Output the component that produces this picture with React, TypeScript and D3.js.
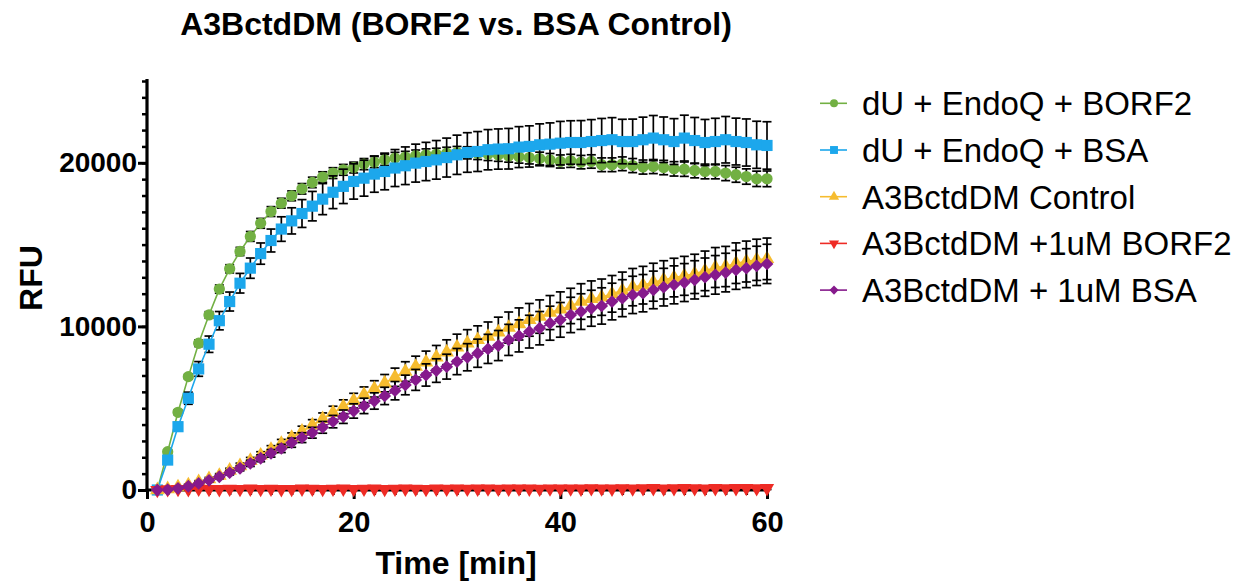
import React, { useEffect, useRef } from 'react';
import * as d3 from 'd3';

const title = 'A3BctdDM (BORF2 vs. BSA Control)';
const xTitle = 'Time [min]';
const yTitle = 'RFU';

const times = [
  1, 2, 3, 4, 5, 6, 7, 8, 9, 10, 11, 12, 13, 14, 15, 16, 17, 18, 19, 20,
  21, 22, 23, 24, 25, 26, 27, 28, 29, 30, 31, 32, 33, 34, 35, 36, 37, 38, 39, 40,
  41, 42, 43, 44, 45, 46, 47, 48, 49, 50, 51, 52, 53, 54, 55, 56, 57, 58, 59, 60,
];

const seriesNames = [
  'dU + EndoQ + BORF2',
  'dU + EndoQ + BSA',
  'A3BctdDM Control',
  'A3BctdDM +1uM BORF2',
  'A3BctdDM + 1uM BSA',
];

// mean RFU per minute
const endoqBorf2 = [
  0, 2340, 4750, 6930, 8970, 10700, 12280, 13520, 14580, 15500,
  16300, 17020, 17530, 17980, 18410, 18800, 19130, 19370, 19570, 19710,
  19920, 20040, 20180, 20290, 20350, 20430, 20490, 20530, 20590, 20630,
  20610, 20570, 20520, 20470, 20420, 20370, 20320, 20260, 20170, 20080,
  20120, 20040, 20080, 19880, 19880, 19940, 19830, 19740, 19770, 19710,
  19630, 19610, 19530, 19470, 19470, 19370, 19270, 19160, 19020, 19020,
];
const endoqBsa = [
  0, 1830, 3870, 5610, 7400, 8910, 10350, 11520, 12640, 13560,
  14450, 15250, 15950, 16450, 16900, 17350, 17780, 18200, 18560, 18860,
  19060, 19310, 19470, 19680, 19820, 19980, 20080, 20180, 20320, 20490,
  20630, 20690, 20800, 20840, 20860, 20960, 21000, 21100, 21140, 21200,
  21240, 21240, 21300, 21360, 21410, 21300, 21300, 21410, 21510, 21410,
  21300, 21510, 21360, 21240, 21300, 21410, 21300, 21240, 21100, 21060,
];
const a3Control = [
  0, 60, 180, 300, 490, 670, 880, 1190, 1470, 1790,
  2120, 2470, 2830, 3200, 3580, 3960, 4340, 4720, 5090, 5460,
  5820, 6180, 6530, 6890, 7240, 7540, 7810, 8115, 8420, 8725,
  8970, 9175, 9380, 9645, 9930, 10150, 10400, 10600, 10845, 11050,
  11250, 11520, 11680, 11785, 11990, 12190, 12400, 12520, 12700, 12845,
  12985, 13090, 13210, 13395, 13600, 13660, 13865, 13965, 14070, 14130,
];
const a3Borf2 = [
  0, 40, 60, 50, 70, 60, 50, 70, 60, 80,
  60, 70, 50, 60, 80, 70, 60, 70, 80, 60,
  70, 80, 60, 70, 80, 70, 60, 80, 70, 80,
  70, 80, 90, 70, 80, 90, 80, 70, 90, 80,
  90, 80, 100, 90, 80, 100, 90, 100, 110, 90,
  100, 110, 100, 90, 110, 100, 110, 120, 100, 110,
];
const a3Bsa = [
  0, 20, 100, 230, 400, 590, 810, 1060, 1330, 1630,
  1940, 2240, 2540, 2890, 3200, 3500, 3830, 4180, 4480, 4830,
  5140, 5440, 5750, 6070, 6420, 6730, 7030, 7300, 7540, 7850,
  8115, 8360, 8625, 8830, 9175, 9420, 9680, 9890, 10195, 10400,
  10700, 10905, 11110, 11250, 11520, 11725, 11925, 12030, 12230, 12400,
  12540, 12680, 12845, 13010, 13150, 13290, 13455, 13560, 13700, 13820,
];

// SD per minute
const endoqBorf2Sd = [
  0, 100, 150, 150, 200, 200, 250, 250, 250, 300,
  300, 300, 300, 300, 320, 320, 320, 330, 330, 330,
  340, 340, 340, 350, 350, 350, 360, 360, 360, 370,
  370, 370, 380, 380, 380, 390, 390, 390, 400, 400,
  400, 410, 410, 420, 420, 420, 430, 430, 430, 440,
  440, 440, 450, 450, 450, 460, 460, 470, 470, 480,
];
const endoqBsaSd = [
  0, 150, 250, 370, 450, 500, 560, 580, 600, 620,
  650, 700, 750, 800, 850, 900, 950, 1000, 1050, 1080,
  1100, 1110, 1120, 1130, 1150, 1160, 1170, 1180, 1190, 1200,
  1210, 1220, 1230, 1230, 1240, 1250, 1260, 1280, 1300, 1330,
  1330, 1340, 1340, 1350, 1350, 1360, 1370, 1380, 1380, 1390,
  1400, 1400, 1410, 1410, 1420, 1420, 1430, 1440, 1440, 1450,
];
const a3ControlSd = [
  0, 20, 40, 60, 80, 100, 120, 140, 170, 200,
  220, 240, 260, 290, 320, 340, 370, 400, 420, 450,
  480, 500, 530, 560, 600, 640, 680, 720, 760, 800,
  830, 860, 890, 920, 950, 980, 1000, 1020, 1040, 1060,
  1080, 1090, 1100, 1110, 1120, 1130, 1140, 1150, 1160, 1170,
  1180, 1190, 1200, 1210, 1220, 1230, 1240, 1250, 1260, 1270,
];
const a3Borf2Sd = [
  0, 20, 20, 30, 30, 30, 30, 40, 40, 40,
  40, 40, 40, 40, 50, 50, 50, 50, 50, 50,
  50, 50, 50, 50, 50, 60, 60, 60, 60, 60,
  60, 60, 60, 60, 60, 60, 60, 60, 60, 60,
  70, 70, 70, 70, 70, 70, 70, 70, 70, 70,
  70, 70, 70, 70, 70, 70, 80, 80, 80, 80,
];
const a3BsaSd = [
  0, 20, 40, 60, 80, 100, 120, 140, 160, 190,
  210, 230, 250, 280, 300, 330, 360, 380, 410, 440,
  470, 500, 530, 560, 600, 640, 680, 720, 760, 800,
  830, 860, 890, 920, 950, 980, 1000, 1020, 1040, 1060,
  1080, 1090, 1100, 1110, 1120, 1130, 1140, 1140, 1150, 1150,
  1160, 1160, 1170, 1170, 1180, 1180, 1190, 1190, 1200, 1200,
];

const seriesValues = [endoqBorf2, endoqBsa, a3Control, a3Borf2, a3Bsa];
const seriesSd = [endoqBorf2Sd, endoqBsaSd, a3ControlSd, a3Borf2Sd, a3BsaSd];
const colors = ['#72b043', '#1ca7ec', '#f6bc2f', '#ee2b25', '#861a8c'];

const yMajorTicks = [0, 10000, 20000];
const xMajorTicks = [0, 20, 40, 60];

const W = 1244;
const H = 586;
const FONT = 'Liberation Sans, Arial, Helvetica, sans-serif';

// symbol generators matching the Prism markers
const symbolFor = (i: number, scale = 1) => {
  const g = d3.symbol();
  if (i === 0) return { path: g.type(d3.symbolCircle).size(100 * scale)()!, rot: 0 };
  if (i === 1) return { path: g.type(d3.symbolSquare).size(125 * scale)()!, rot: 0 };
  if (i === 2) return { path: g.type(d3.symbolTriangle).size(92 * scale)()!, rot: 0 };
  if (i === 3) return { path: g.type(d3.symbolTriangle).size(88 * scale)()!, rot: 180 };
  return { path: g.type(d3.symbolSquare).size(82 * scale)()!, rot: 45 };
};

export default function App() {
  const svgRef = useRef<SVGSVGElement>(null);

  useEffect(() => {
    if (!svgRef.current) return;
    const svg = d3.select(svgRef.current);
    svg.selectAll('*').remove();

    const x = d3.scaleLinear().domain([0, 60]).range([147, 767]);
    const y = d3.scaleLinear().domain([0, 25000]).range([490, 81]);

    svg.append('rect').attr('width', W).attr('height', H).attr('fill', '#fff');

    // title
    svg.append('text')
      .attr('x', 456)
      .attr('y', 35)
      .attr('text-anchor', 'middle')
      .attr('font-family', FONT)
      .attr('font-weight', 'bold')
      .attr('font-size', 32)
      .text(title);

    // minor ticks
    svg.append('g')
      .attr('transform', `translate(${x(0)},0)`)
      .call(d3.axisLeft(y).tickValues(d3.range(0, 25001, 1000)).tickSize(5).tickSizeOuter(0).tickFormat(() => ''))
      .call(g => g.select('.domain').remove())
      .call(g => g.selectAll('line').attr('stroke', '#000').attr('stroke-width', 2.5));

    svg.append('g')
      .attr('transform', `translate(0,${y(0)})`)
      .call(d3.axisBottom(x).tickValues(d3.range(0, 61, 2)).tickSize(5).tickSizeOuter(0).tickFormat(() => ''))
      .call(g => g.select('.domain').remove())
      .call(g => g.selectAll('line').attr('stroke', '#000').attr('stroke-width', 2.5));

    // major axes
    const yAxis = svg.append('g')
      .attr('transform', `translate(${x(0)},0)`)
      .call(d3.axisLeft(y).tickValues(yMajorTicks).tickSize(9).tickSizeOuter(0).tickPadding(1).tickFormat(d3.format('d')));
    yAxis.select('.domain').remove();
    yAxis.selectAll('line').attr('stroke', '#000').attr('stroke-width', 3);
    yAxis.selectAll('text')
      .attr('font-family', FONT)
      .attr('font-weight', 'bold')
      .attr('font-size', 28)
      .attr('fill', '#000');

    const xAxis = svg.append('g')
      .attr('transform', `translate(0,${y(0)})`)
      .call(d3.axisBottom(x).tickValues(xMajorTicks).tickSize(9).tickSizeOuter(0).tickPadding(12).tickFormat(d3.format('d')));
    xAxis.select('.domain').remove();
    xAxis.selectAll('line').attr('stroke', '#000').attr('stroke-width', 3);
    xAxis.selectAll('text')
      .attr('font-family', FONT)
      .attr('font-weight', 'bold')
      .attr('font-size', 29)
      .attr('fill', '#000');

    // axis lines
    svg.append('line')
      .attr('x1', x(0)).attr('x2', x(0))
      .attr('y1', y(25000) - 2).attr('y2', y(0) + 2)
      .attr('stroke', '#000').attr('stroke-width', 3.2);
    svg.append('line')
      .attr('x1', x(0) - 1.5).attr('x2', x(60) + 1.5)
      .attr('y1', y(0)).attr('y2', y(0))
      .attr('stroke', '#000').attr('stroke-width', 3.2);

    // axis titles
    svg.append('text')
      .attr('transform', `translate(42,278) rotate(-90)`)
      .attr('text-anchor', 'middle')
      .attr('font-family', FONT)
      .attr('font-weight', 'bold')
      .attr('font-size', 32)
      .text(yTitle);
    svg.append('text')
      .attr('x', 456)
      .attr('y', 574)
      .attr('text-anchor', 'middle')
      .attr('font-family', FONT)
      .attr('font-weight', 'bold')
      .attr('font-size', 32)
      .text(xTitle);

    const plot = svg.append('g');

    seriesValues.forEach((vals, si) => {
      const sd = seriesSd[si];
      const color = colors[si];
      const g = plot.append('g');

      // error bars
      vals.forEach((v, i) => {
        const e = sd[i];
        if (!e) return;
        const cx = x(times[i]);
        g.append('line')
          .attr('x1', cx).attr('x2', cx)
          .attr('y1', y(v - e)).attr('y2', y(v + e))
          .attr('stroke', '#000').attr('stroke-width', 1.7);
        [v - e, v + e].forEach(ev => {
          g.append('line')
            .attr('x1', cx - 4.5).attr('x2', cx + 4.5)
            .attr('y1', y(ev)).attr('y2', y(ev))
            .attr('stroke', '#000').attr('stroke-width', 1.7);
        });
      });

      const line = d3.line<number>()
        .x((_, i) => x(times[i]))
        .y(d => y(d));
      g.append('path')
        .attr('d', line(vals)!)
        .attr('fill', 'none')
        .attr('stroke', color)
        .attr('stroke-width', 1.6);

      const sym = symbolFor(si);
      vals.forEach((v, i) => {
        g.append('path')
          .attr('d', sym.path)
          .attr('transform', `translate(${x(times[i])},${y(v)}) rotate(${sym.rot})`)
          .attr('fill', color);
      });
    });

    // legend
    const legend = svg.append('g');
    seriesNames.forEach((name, i) => {
      const ly = 103.3 + i * 46.7;
      const row = legend.append('g');
      row.append('line')
        .attr('x1', 820).attr('x2', 847)
        .attr('y1', ly).attr('y2', ly)
        .attr('stroke', colors[i]).attr('stroke-width', 1.6);
      const sym = symbolFor(i, 0.5);
      row.append('path')
        .attr('d', sym.path)
        .attr('transform', `translate(834,${ly}) rotate(${sym.rot})`)
        .attr('fill', colors[i]);
      row.append('text')
        .attr('x', 862)
        .attr('y', ly + 11.8)
        .attr('font-family', FONT)
        .attr('font-size', 33)
        .attr('fill', '#000')
        .text(name);
    });
  }, []);

  return (
    <svg
      ref={svgRef}
      width={W}
      height={H}
      style={{ position: 'absolute', left: 0, top: 0 }}
    />
  );
}
